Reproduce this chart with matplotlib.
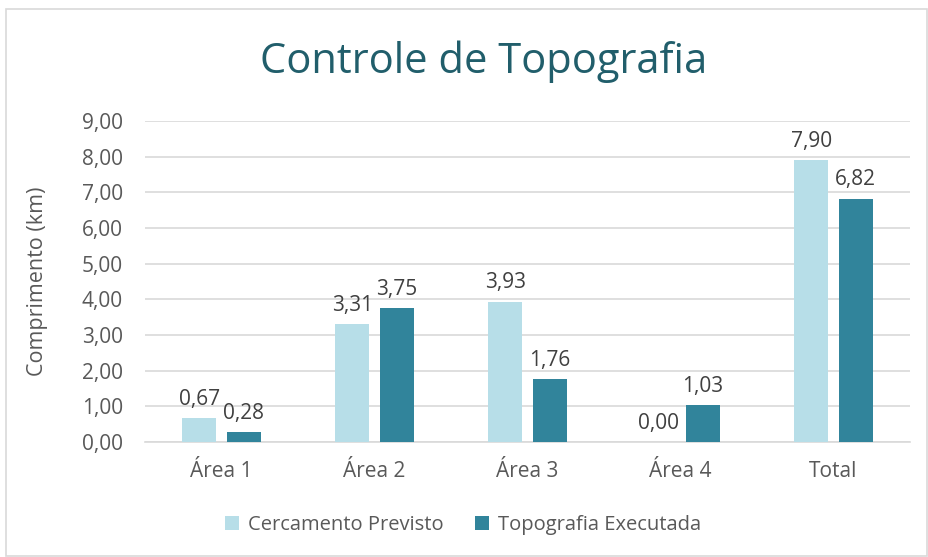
import matplotlib

matplotlib.use("Agg")
import matplotlib.pyplot as plt
import numpy as np
from matplotlib.patches import Rectangle

categories = ["Área 1", "Área 2", "Área 3", "Área 4", "Total"]
cercamento_previsto = [0.67, 3.31, 3.93, 0.00, 7.90]
topografia_executada = [0.28, 3.75, 1.76, 1.03, 6.82]
y_ticks = [0, 1, 2, 3, 4, 5, 6, 7, 8, 9]

LIGHT = "#B7DEE8"
DARK = "#31849B"
TEXT = "#595959"

plt.rcParams["font.family"] = ["Open Sans", "DejaVu Sans"]


def fmt(v):
    return f"{v:.2f}".replace(".", ",")


fig = plt.figure(figsize=(9.29, 5.57), dpi=100)
ax = fig.add_axes([145 / 929, 1 - 442 / 557, 765 / 929, 321 / 557])

x = np.arange(len(categories))
w = 0.222
off = 0.144
b1 = ax.bar(x - off, cercamento_previsto, w, color=LIGHT, label="Cercamento Previsto", zorder=3)
b2 = ax.bar(x + off, topografia_executada, w, color=DARK, label="Topografia Executada", zorder=3)

for bars, vals in ((b1, cercamento_previsto), (b2, topografia_executada)):
    for r, v in zip(bars, vals):
        ax.annotate(fmt(v), (r.get_x() + r.get_width() / 2, v), xytext=(0, 6),
                    textcoords="offset points", ha="center", va="bottom",
                    fontsize=15, color="#404040")

ax.set_xlim(-0.5, len(categories) - 0.5)
ax.set_ylim(0, 9)
ax.set_yticks(y_ticks)
ax.set_yticklabels([fmt(v) for v in y_ticks], fontsize=15, color=TEXT)
ax.set_xticks(x)
ax.set_xticklabels(categories, fontsize=15, color=TEXT)
ax.tick_params(length=0)
ax.tick_params(axis="y", pad=16)
ax.tick_params(axis="x", pad=14)
ax.grid(axis="y", color="#D9D9D9", linewidth=1.2, zorder=0)
for s in ("top", "right", "left"):
    ax.spines[s].set_visible(False)
ax.spines["bottom"].set_color("#D9D9D9")
ax.spines["bottom"].set_linewidth(1.2)
ax.set_ylabel("Comprimento (km)", fontsize=15.5, color=TEXT, labelpad=24)

fig.text(484 / 929, 1 - 62 / 557, "Controle de Topografia", ha="center", va="center",
         fontsize=30, color="#215E6B")

fig.legend(handles=[b1, b2], loc="center", bbox_to_anchor=(463 / 929, 1 - 525 / 557),
           ncol=2, frameon=False, fontsize=14.5, labelcolor=TEXT, handlelength=0.7,
           handleheight=0.7, handletextpad=0.4, columnspacing=1.6)

fig.patches.append(Rectangle((6 / 929, 1 / 557), 921 / 929, 547 / 557, transform=fig.transFigure,
                             fill=False, edgecolor="#D9D9D9", linewidth=1.2))

plt.savefig("out.png", dpi=100)
